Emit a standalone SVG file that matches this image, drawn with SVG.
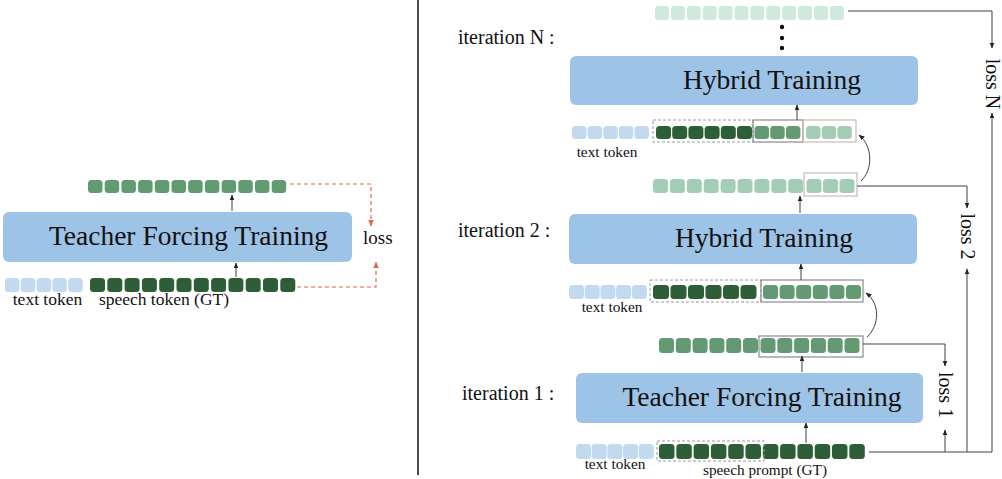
<svg xmlns="http://www.w3.org/2000/svg" width="1002" height="479" viewBox="0 0 1002 479">
<defs>
<style>
.box{fill:#9dc3e6;}
.big{font-family:"Liberation Serif",serif;font-size:27.5px;fill:#111;text-anchor:middle;}
.lbl{font-family:"Liberation Serif",serif;font-size:20px;fill:#111;}
.sm{font-family:"Liberation Serif",serif;font-size:15.3px;fill:#111;text-anchor:middle;}
.sm2{font-family:"Liberation Serif",serif;font-size:17.5px;fill:#111;text-anchor:middle;}
.tt{fill:#c3d9f0;}
.dk{fill:#2d5e37;}
.md{fill:#639a74;}
.lt{fill:#a4cdb6;}
.vl{fill:#cfe9dd;}
.dash{fill:none;stroke:#9a9a9a;stroke-width:1;stroke-dasharray:3 2;}
.sbox{fill:none;stroke:#8a8a8a;stroke-width:1.2;}
.lbox{fill:none;stroke:#c9bcb4;stroke-width:1.2;}
.ln{fill:none;stroke:#404040;stroke-width:1;}
.red{fill:none;stroke:#e2664f;stroke-width:1.2;stroke-dasharray:4 3;}
</style>
<marker id="ah" viewBox="0 0 10 10" refX="9" refY="5" markerWidth="6" markerHeight="6" markerUnits="userSpaceOnUse" orient="auto"><path d="M0,1 L10,5 L0,9 z" fill="#222"/></marker>
<marker id="ahr" viewBox="0 0 10 10" refX="9" refY="5" markerWidth="7" markerHeight="7" markerUnits="userSpaceOnUse" orient="auto"><path d="M0,1 L10,5 L0,9 z" fill="#e2664f"/></marker>
<g id="tok12l">
</g>
</defs>

<!-- divider -->
<line x1="418" y1="0" x2="418" y2="475" stroke="#111" stroke-width="1.5"/>

<!-- LEFT PANEL -->
<g id="left-output">
<rect class="md" x="88" y="180" width="14.5" height="13" rx="3.5"/>
<rect class="md" x="104.7" y="180" width="14.5" height="13" rx="3.5"/>
<rect class="md" x="121.4" y="180" width="14.5" height="13" rx="3.5"/>
<rect class="md" x="138.1" y="180" width="14.5" height="13" rx="3.5"/>
<rect class="md" x="154.8" y="180" width="14.5" height="13" rx="3.5"/>
<rect class="md" x="171.5" y="180" width="14.5" height="13" rx="3.5"/>
<rect class="md" x="188.2" y="180" width="14.5" height="13" rx="3.5"/>
<rect class="md" x="204.9" y="180" width="14.5" height="13" rx="3.5"/>
<rect class="md" x="221.6" y="180" width="14.5" height="13" rx="3.5"/>
<rect class="md" x="238.3" y="180" width="14.5" height="13" rx="3.5"/>
<rect class="md" x="255" y="180" width="14.5" height="13" rx="3.5"/>
<rect class="md" x="271.7" y="180" width="14.5" height="13" rx="3.5"/>
</g>
<g id="left-box">
<rect class="box" x="3" y="212" width="349" height="50" rx="6"/>
<text class="big" x="188.5" y="245">Teacher Forcing Training</text>
</g>
<g id="left-loss"><text class="lbl" x="363" y="244" style="font-size:19px">loss</text></g>
<g id="left-input">
<rect class="tt" x="5" y="278" width="14.5" height="14" rx="3.5"/>
<rect class="tt" x="20.8" y="278" width="14.5" height="14" rx="3.5"/>
<rect class="tt" x="36.6" y="278" width="14.5" height="14" rx="3.5"/>
<rect class="tt" x="52.4" y="278" width="14.5" height="14" rx="3.5"/>
<rect class="tt" x="68.2" y="278" width="14.5" height="14" rx="3.5"/>
<rect class="dk" x="90" y="278" width="15" height="14" rx="3.5"/>
<rect class="dk" x="107.3" y="278" width="15" height="14" rx="3.5"/>
<rect class="dk" x="124.6" y="278" width="15" height="14" rx="3.5"/>
<rect class="dk" x="141.9" y="278" width="15" height="14" rx="3.5"/>
<rect class="dk" x="159.2" y="278" width="15" height="14" rx="3.5"/>
<rect class="dk" x="176.5" y="278" width="15" height="14" rx="3.5"/>
<rect class="dk" x="193.8" y="278" width="15" height="14" rx="3.5"/>
<rect class="dk" x="211.1" y="278" width="15" height="14" rx="3.5"/>
<rect class="dk" x="228.4" y="278" width="15" height="14" rx="3.5"/>
<rect class="dk" x="245.7" y="278" width="15" height="14" rx="3.5"/>
<rect class="dk" x="263" y="278" width="15" height="14" rx="3.5"/>
<rect class="dk" x="280.3" y="278" width="15" height="14" rx="3.5"/>
<text class="sm2" x="47.5" y="305">text token</text>
<text class="sm2" x="164" y="305">speech token (GT)</text>
</g>

<!-- RIGHT PANEL -->
<g id="iterN-output">
<rect class="vl" x="655" y="6" width="14" height="14" rx="3.5"/>
<rect class="vl" x="670.9" y="6" width="14" height="14" rx="3.5"/>
<rect class="vl" x="686.8" y="6" width="14" height="14" rx="3.5"/>
<rect class="vl" x="702.7" y="6" width="14" height="14" rx="3.5"/>
<rect class="vl" x="718.6" y="6" width="14" height="14" rx="3.5"/>
<rect class="vl" x="734.5" y="6" width="14" height="14" rx="3.5"/>
<rect class="vl" x="750.4" y="6" width="14" height="14" rx="3.5"/>
<rect class="vl" x="766.3" y="6" width="14" height="14" rx="3.5"/>
<rect class="vl" x="782.2" y="6" width="14" height="14" rx="3.5"/>
<rect class="vl" x="798.1" y="6" width="14" height="14" rx="3.5"/>
<rect class="vl" x="814" y="6" width="14" height="14" rx="3.5"/>
<rect class="vl" x="829.9" y="6" width="14" height="14" rx="3.5"/>
</g>
<g id="dots" fill="#111">
<circle cx="782" cy="27" r="2.2"/>
<circle cx="782" cy="38" r="2.2"/>
<circle cx="782" cy="48" r="2.2"/>
</g>
<g id="label-N"><text class="lbl" x="458" y="44">iteration N :</text></g>
<g id="iterN-box">
<rect class="box" x="570" y="56" width="348" height="49" rx="6"/>
<text class="big" x="772" y="89">Hybrid Training</text>
</g>
<g id="iterN-input">
<rect class="tt" x="572" y="126" width="14.5" height="13" rx="3.5"/>
<rect class="tt" x="587.6" y="126" width="14.5" height="13" rx="3.5"/>
<rect class="tt" x="603.2" y="126" width="14.5" height="13" rx="3.5"/>
<rect class="tt" x="618.8" y="126" width="14.5" height="13" rx="3.5"/>
<rect class="tt" x="634.4" y="126" width="14.5" height="13" rx="3.5"/>
<rect class="dk" x="656" y="126" width="15" height="13" rx="3.5"/>
<rect class="dk" x="672.2" y="126" width="15" height="13" rx="3.5"/>
<rect class="dk" x="688.4" y="126" width="15" height="13" rx="3.5"/>
<rect class="dk" x="704.6" y="126" width="15" height="13" rx="3.5"/>
<rect class="dk" x="720.8" y="126" width="15" height="13" rx="3.5"/>
<rect class="dk" x="737" y="126" width="15" height="13" rx="3.5"/>
<rect class="md" x="754.5" y="126" width="14.5" height="13" rx="3.5"/>
<rect class="md" x="770.2" y="126" width="14.5" height="13" rx="3.5"/>
<rect class="md" x="785.9" y="126" width="14.5" height="13" rx="3.5"/>
<rect class="lt" x="806" y="126" width="14.5" height="13" rx="3.5"/>
<rect class="lt" x="821.7" y="126" width="14.5" height="13" rx="3.5"/>
<rect class="lt" x="837.4" y="126" width="14.5" height="13" rx="3.5"/>
<rect class="dash" x="653" y="120" width="100" height="22"/>
<rect class="sbox" x="753" y="120" width="50" height="22"/>
<rect class="lbox" x="803" y="120" width="53" height="22"/>
<text class="sm" x="607" y="157">text token</text>
</g>

<g id="iter2-output">
<rect class="lt" x="653" y="179" width="15" height="14" rx="3.5"/>
<rect class="lt" x="669.9" y="179" width="15" height="14" rx="3.5"/>
<rect class="lt" x="686.8" y="179" width="15" height="14" rx="3.5"/>
<rect class="lt" x="703.7" y="179" width="15" height="14" rx="3.5"/>
<rect class="lt" x="720.6" y="179" width="15" height="14" rx="3.5"/>
<rect class="lt" x="737.5" y="179" width="15" height="14" rx="3.5"/>
<rect class="lt" x="754.4" y="179" width="15" height="14" rx="3.5"/>
<rect class="lt" x="771.3" y="179" width="15" height="14" rx="3.5"/>
<rect class="lt" x="788.2" y="179" width="15" height="14" rx="3.5"/>
<rect class="lt" x="806.5" y="179" width="15" height="14" rx="3.5"/>
<rect class="lt" x="823" y="179" width="15" height="14" rx="3.5"/>
<rect class="lt" x="839.5" y="179" width="15" height="14" rx="3.5"/>
<rect class="lbox" x="804" y="173" width="53" height="23"/>
</g>
<g id="label-2"><text class="lbl" x="458" y="237">iteration 2 :</text></g>
<g id="iter2-box">
<rect class="box" x="569" y="214" width="348" height="50" rx="6"/>
<text class="big" x="764" y="247">Hybrid Training</text>
</g>
<g id="iter2-input">
<rect class="tt" x="569" y="285" width="15" height="14" rx="3.5"/>
<rect class="tt" x="584.7" y="285" width="15" height="14" rx="3.5"/>
<rect class="tt" x="600.4" y="285" width="15" height="14" rx="3.5"/>
<rect class="tt" x="616.1" y="285" width="15" height="14" rx="3.5"/>
<rect class="tt" x="631.8" y="285" width="15" height="14" rx="3.5"/>
<rect class="dk" x="653" y="285" width="16" height="14" rx="3.5"/>
<rect class="dk" x="670.5" y="285" width="16" height="14" rx="3.5"/>
<rect class="dk" x="688" y="285" width="16" height="14" rx="3.5"/>
<rect class="dk" x="705.5" y="285" width="16" height="14" rx="3.5"/>
<rect class="dk" x="723" y="285" width="16" height="14" rx="3.5"/>
<rect class="dk" x="740.5" y="285" width="16" height="14" rx="3.5"/>
<rect class="md" x="763" y="285" width="15" height="14" rx="3.5"/>
<rect class="md" x="779.6" y="285" width="15" height="14" rx="3.5"/>
<rect class="md" x="796.2" y="285" width="15" height="14" rx="3.5"/>
<rect class="md" x="812.8" y="285" width="15" height="14" rx="3.5"/>
<rect class="md" x="829.4" y="285" width="15" height="14" rx="3.5"/>
<rect class="md" x="846" y="285" width="15" height="14" rx="3.5"/>
<rect class="dash" x="650" y="280" width="111" height="22"/>
<rect class="sbox" x="761" y="280" width="102" height="22"/>
<text class="sm" x="612" y="312">text token</text>
</g>

<g id="iter1-output">
<rect class="md" x="659" y="338" width="15" height="15" rx="3.5"/>
<rect class="md" x="675.8" y="338" width="15" height="15" rx="3.5"/>
<rect class="md" x="692.6" y="338" width="15" height="15" rx="3.5"/>
<rect class="md" x="709.4" y="338" width="15" height="15" rx="3.5"/>
<rect class="md" x="726.2" y="338" width="15" height="15" rx="3.5"/>
<rect class="md" x="743" y="338" width="15" height="15" rx="3.5"/>
<rect class="md" x="760.5" y="338" width="15" height="15" rx="3.5"/>
<rect class="md" x="777.3" y="338" width="15" height="15" rx="3.5"/>
<rect class="md" x="794.1" y="338" width="15" height="15" rx="3.5"/>
<rect class="md" x="810.9" y="338" width="15" height="15" rx="3.5"/>
<rect class="md" x="827.7" y="338" width="15" height="15" rx="3.5"/>
<rect class="md" x="844.5" y="338" width="15" height="15" rx="3.5"/>
<rect class="sbox" x="759" y="336" width="104" height="21"/>
</g>
<g id="label-1"><text class="lbl" x="462" y="400">iteration 1 :</text></g>
<g id="iter1-box">
<rect class="box" x="576" y="373" width="347" height="50" rx="6"/>
<text class="big" x="762" y="406">Teacher Forcing Training</text>
</g>
<g id="iter1-input">
<rect class="tt" x="576" y="444" width="15" height="15" rx="3.5"/>
<rect class="tt" x="591.7" y="444" width="15" height="15" rx="3.5"/>
<rect class="tt" x="607.4" y="444" width="15" height="15" rx="3.5"/>
<rect class="tt" x="623.1" y="444" width="15" height="15" rx="3.5"/>
<rect class="tt" x="638.8" y="444" width="15" height="15" rx="3.5"/>
<rect class="dk" x="659" y="444" width="15.5" height="15" rx="3.5"/>
<rect class="dk" x="676.3" y="444" width="15.5" height="15" rx="3.5"/>
<rect class="dk" x="693.6" y="444" width="15.5" height="15" rx="3.5"/>
<rect class="dk" x="710.9" y="444" width="15.5" height="15" rx="3.5"/>
<rect class="dk" x="728.2" y="444" width="15.5" height="15" rx="3.5"/>
<rect class="dk" x="745.5" y="444" width="15.5" height="15" rx="3.5"/>
<rect class="dk" x="762.8" y="444" width="15.5" height="15" rx="3.5"/>
<rect class="dk" x="780.1" y="444" width="15.5" height="15" rx="3.5"/>
<rect class="dk" x="797.4" y="444" width="15.5" height="15" rx="3.5"/>
<rect class="dk" x="814.7" y="444" width="15.5" height="15" rx="3.5"/>
<rect class="dk" x="832" y="444" width="15.5" height="15" rx="3.5"/>
<rect class="dk" x="849.3" y="444" width="15.5" height="15" rx="3.5"/>
<rect class="dash" x="657" y="441" width="107" height="20"/>
<text class="sm" x="615" y="469">text token</text>
<text class="sm" x="765" y="475">speech prompt (GT)</text>
</g>

<g id="loss-labels">
<text class="lbl" text-anchor="middle" transform="translate(992,84) rotate(90)" dy="0.3em">loss N</text>
<text class="lbl" text-anchor="middle" transform="translate(967,236.5) rotate(90)" dy="0.3em">loss 2</text>
<text class="lbl" text-anchor="middle" transform="translate(945,395) rotate(90)" dy="0.3em">loss 1</text>
</g>

<g id="connectors">
<!-- left -->
<line class="ln" x1="232" y1="211" x2="232" y2="195" marker-end="url(#ah)"/>
<line class="ln" x1="236" y1="277" x2="236" y2="263" marker-end="url(#ah)"/>
<path class="red" d="M290 184 H371 V226" marker-end="url(#ahr)"/>
<path class="red" d="M297 287 H376 V262" marker-end="url(#ahr)"/>
<!-- right vertical flow -->
<line class="ln" x1="797" y1="120" x2="797" y2="105" marker-end="url(#ah)"/>
<line class="ln" x1="800" y1="213" x2="800" y2="196" marker-end="url(#ah)"/>
<line class="ln" x1="801" y1="280" x2="801" y2="264" marker-end="url(#ah)"/>
<line class="ln" x1="802" y1="372" x2="802" y2="356" marker-end="url(#ah)"/>
<line class="ln" x1="806" y1="443" x2="806" y2="423" marker-end="url(#ah)"/>
<!-- curves -->
<path class="ln" d="M861 181 C873 170 873 146 859 135" marker-end="url(#ah)"/>
<path class="ln" d="M867 337 C880 325 880 303 866 293" marker-end="url(#ah)"/>
<!-- loss lines -->
<path class="ln" d="M848 11 H992 V48" marker-end="url(#ah)"/>
<path class="ln" d="M857 186 H967 V208" marker-end="url(#ah)"/>
<path class="ln" d="M863 344 H945 V366" marker-end="url(#ah)"/>
<line class="ln" x1="869" y1="452" x2="992" y2="452"/>
<line class="ln" x1="992" y1="452" x2="992" y2="113" marker-end="url(#ah)"/>
<line class="ln" x1="967" y1="452" x2="967" y2="269" marker-end="url(#ah)"/>
<line class="ln" x1="945" y1="452" x2="945" y2="430" marker-end="url(#ah)"/>
</g>
</svg>
